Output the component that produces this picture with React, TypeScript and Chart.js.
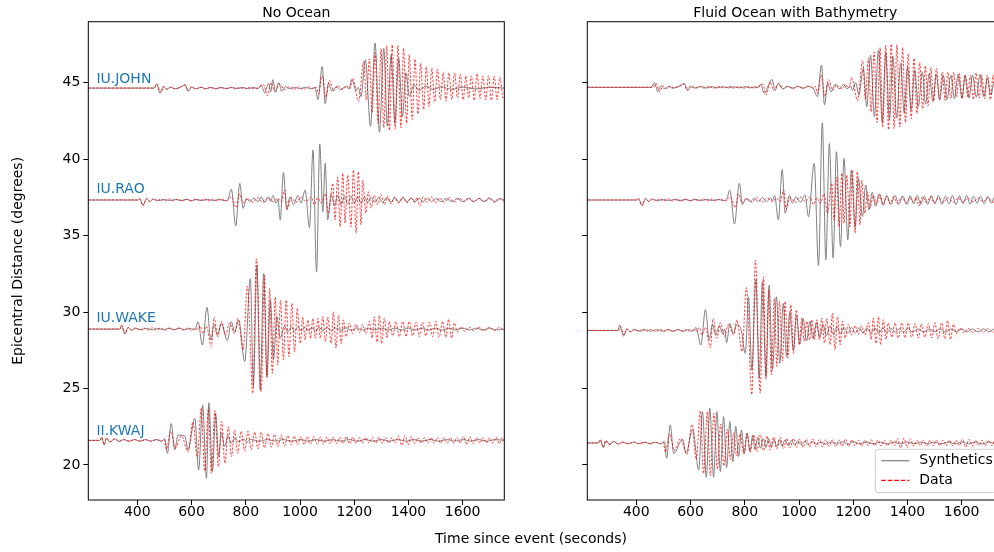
import React, { useEffect, useRef } from "react";
import { Chart, registerables } from "chart.js";

Chart.register(...registerables);

const FONT = '"DejaVu Sans", sans-serif';
const GREY = "#808080";
const RED = "#ff0000";
const BLUE = "#1f77b4";

const X_TICKS = [400, 600, 800, 1000, 1200, 1400, 1600];
const Y_TICKS = [20, 25, 30, 35, 40, 45];
const STATIONS = ["IU.JOHN", "IU.RAO", "IU.WAKE", "II.KWAJ"];
const LABEL_X = 249;
const LABEL_Y = [44.96, 37.77, 29.37, 21.96];
const BASE_NO_OCEAN = [44.65, 37.33, 28.89, 21.61];
const BASE_OCEAN = [44.7, 37.33, 28.8, 21.44];

// Traces: flat lists of [time (s), amplitude (hundredths of a degree)]
const DATA_JOHN = [220,0, 462,0, 473,25, 486,-30, 499,10, 511,-8, 526,6, 540,-5, 556,5, 577,20, 587,-20, 599,8, 615,-6, 632,6, 650,-5, 668,6, 686,-6, 705,5, 724,-5, 742,6, 760,-5, 778,5, 796,-6, 815,5, 833,-5, 848,5, 867,20, 879,-50, 894,35, 906,-20, 925,25, 943,-10, 960,8, 978,-8, 996,8, 1014,-8, 1032,8, 1050,-5, 1060,5, 1068,-40, 1082,80, 1095,-60, 1109,50, 1124,-20, 1139,15, 1158,-10, 1172,15, 1184,-5, 1194,65, 1216,-87, 1235,175, 1245,-80, 1256,190, 1266,-160, 1277,230, 1288,-230, 1299,260, 1309,-260, 1320,277, 1330,-277, 1340,283, 1351,-270, 1361,280, 1372,-260, 1382,260, 1393,-230, 1403,220, 1414,-205, 1424,190, 1435,-170, 1445,163, 1456,-140, 1466,140, 1476,-120, 1486,130, 1497,-90, 1507,125, 1518,-76, 1528,100, 1539,-85, 1549,100, 1560,-76, 1570,100, 1581,-65, 1591,90, 1602,-76, 1612,80, 1622,-65, 1632,80, 1643,-80, 1653,95, 1664,-70, 1674,80, 1685,-76, 1695,80, 1706,-80, 1716,80, 1727,-76, 1737,70, 1748,-65];

const DATA_RAO = [220,0, 403,0, 409,5, 421,-40, 434,10, 446,-10, 458,8, 471,-6, 486,6, 502,-6, 518,7, 534,-6, 550,6, 566,-7, 582,6, 598,-6, 614,6, 630,-6, 646,7, 662,-6, 678,6, 694,-6, 710,6, 728,-5, 747,20, 765,-50, 777,40, 790,-20, 808,10, 826,-15, 845,15, 863,-15, 882,15, 900,-10, 918,10, 931,-10, 943,65, 953,-60, 967,15, 986,-15, 1004,20, 1023,-10, 1041,20, 1053,-30, 1066,15, 1078,-20, 1093,40, 1105,-87, 1121,109, 1129,-130, 1139,150, 1148,-175, 1158,175, 1166,-152, 1176,163, 1188,-175, 1197,196, 1207,-218, 1215,185, 1225,-163, 1231,130, 1243,-87, 1252,54, 1262,-54, 1274,30, 1286,-30, 1299,35, 1311,-30, 1323,25, 1336,-25, 1348,20, 1363,-20, 1379,20, 1395,-20, 1409,15, 1422,-15, 1432,15, 1442,-40, 1455,20, 1470,-15, 1485,20, 1500,-20, 1515,15, 1532,-15, 1550,15, 1569,-15, 1587,12, 1606,-12, 1624,12, 1642,-12, 1661,12, 1679,-12, 1697,15, 1716,-15, 1734,12, 1752,-10];

const DATA_WAKE = [220,0, 336,0, 342,25, 354,-30, 366,10, 379,-8, 392,8, 408,-6, 424,8, 440,-6, 456,8, 472,-8, 488,6, 504,-8, 520,8, 536,-6, 552,8, 568,-6, 584,6, 600,-8, 612,6, 624,-3, 632,20, 642,-30, 655,20, 673,-115, 683,80, 697,-50, 710,50, 725,-40, 740,40, 759,-30, 771,70, 790,-137, 806,280, 826,-420, 839,460, 857,-410, 869,350, 878,-320, 888,266, 898,-290, 909,210, 918,-235, 928,190, 939,-200, 949,190, 959,-180, 970,168, 980,-150, 990,135, 1001,-94, 1010,80, 1019,-72, 1029,60, 1039,-62, 1047,70, 1057,-62, 1066,70, 1075,-62, 1084,80, 1094,-83, 1102,80, 1115,-94, 1123,113, 1133,-126, 1142,90, 1152,-94, 1160,60, 1170,-50, 1182,40, 1194,-30, 1207,30, 1219,-25, 1231,30, 1243,-30, 1256,50, 1266,-60, 1274,80, 1284,-85, 1293,90, 1301,-95, 1311,70, 1321,-60, 1329,50, 1342,-45, 1354,50, 1366,-50, 1379,50, 1391,-50, 1403,50, 1415,-45, 1428,45, 1440,-50, 1452,45, 1464,-45, 1477,45, 1489,-50, 1501,50, 1513,-55, 1526,50, 1538,-55, 1548,65, 1559,-60, 1569,40, 1581,-20, 1593,15, 1608,-15, 1624,12, 1642,-12, 1661,12, 1679,-12, 1697,12, 1716,-12, 1734,10, 1753,-8];

const DATA_KWAJ = [220,0, 262,0, 268,20, 278,-30, 286,15, 299,-10, 317,10, 332,-7, 350,5, 370,-5, 390,5, 410,-5, 430,5, 450,-5, 470,5, 490,-5, 499,5, 507,-60, 523,60, 540,-50, 563,30, 587,-74, 605,120, 621,-110, 636,210, 648,-200, 662,205, 673,-215, 686,194, 699,-172, 711,122, 723,-150, 736,90, 747,-107, 759,68, 770,-85, 783,60, 796,-70, 808,60, 820,-60, 833,55, 845,-55, 857,55, 869,-50, 882,45, 894,-45, 906,40, 918,-40, 931,35, 943,-35, 955,30, 967,-30, 979,28, 991,-28, 1003,25, 1015,-28, 1027,25, 1039,-25, 1051,25, 1063,-25, 1075,22, 1087,-25, 1099,22, 1111,-22, 1123,20, 1135,-22, 1147,20, 1159,-20, 1171,25, 1183,-22, 1195,20, 1207,-20, 1219,18, 1231,-20, 1243,18, 1255,-18, 1267,20, 1279,-18, 1291,20, 1303,-20, 1315,18, 1327,-18, 1339,18, 1351,-18, 1363,30, 1375,-32, 1387,32, 1399,-30, 1411,25, 1423,-20, 1435,18, 1447,-18, 1459,18, 1471,-18, 1483,18, 1495,-18, 1507,18, 1519,-18, 1531,18, 1543,-18, 1555,18, 1567,-18, 1579,18, 1591,-18, 1603,25, 1615,-28, 1627,25, 1639,-22, 1651,18, 1663,-18, 1675,18, 1687,-18, 1699,18, 1711,-18, 1723,20, 1735,-20, 1747,18, 1753,0];

const SYN_NO_JOHN = [220,0, 462,0, 471,28, 483,-33, 495,10, 507,-8, 522,5, 540,-5, 558,4, 577,22, 587,-20, 600,6, 618,-5, 636,5, 655,-5, 673,4, 692,-4, 712,4, 730,-4, 750,4, 770,-4, 790,4, 810,-4, 830,4, 845,-4, 857,20, 869,-30, 884,30, 892,-25, 900,55, 910,-28, 921,37, 933,-22, 945,10, 960,-5, 980,5, 1000,-5, 1020,5, 1040,-5, 1055,5, 1066,-76, 1082,142, 1093,-102, 1105,33, 1117,-20, 1133,8, 1150,-10, 1168,10, 1180,-5, 1191,55, 1207,-15, 1214,5, 1225,-55, 1241,185, 1260,-250, 1277,294, 1293,-290, 1309,260, 1322,-250, 1336,218, 1350,-230, 1364,196, 1378,-185, 1391,100, 1403,-55, 1420,20, 1440,-15, 1465,12, 1490,-10, 1520,8, 1560,-8, 1600,6, 1650,-5, 1700,5, 1753,0];

const SYN_NO_RAO = [220,0, 403,0, 409,10, 421,-33, 434,10, 446,-10, 460,5, 480,-5, 500,4, 520,-4, 540,4, 560,-4, 580,4, 600,-4, 620,4, 640,-4, 660,4, 680,-4, 700,4, 720,-4, 733,0, 747,70, 763,-170, 778,109, 790,-55, 802,10, 815,-10, 830,12, 845,-12, 857,20, 870,-15, 884,20, 892,-10, 900,30, 912,-20, 919,5, 927,-130, 939,179, 951,-65, 963,20, 976,-30, 992,30, 1004,-20, 1019,65, 1035,-180, 1048,327, 1061,-470, 1073,366, 1084,-76, 1093,240, 1102,-130, 1115,40, 1127,-40, 1139,30, 1152,-30, 1164,25, 1176,-25, 1188,25, 1200,-20, 1213,20, 1225,-20, 1238,20, 1250,-18, 1263,18, 1275,-15, 1290,15, 1305,-15, 1320,15, 1335,-15, 1350,15, 1365,-15, 1380,15, 1395,-12, 1410,12, 1425,-12, 1440,12, 1455,-12, 1470,12, 1485,-12, 1500,10, 1520,-10, 1540,10, 1560,-10, 1580,10, 1600,-10, 1620,10, 1640,-10, 1660,10, 1680,-10, 1700,10, 1720,-10, 1740,8, 1753,0];

const SYN_NO_WAKE = [220,0, 336,0, 342,26, 354,-33, 366,10, 379,-8, 395,5, 415,-5, 435,5, 455,-5, 475,5, 495,-5, 515,5, 535,-5, 555,5, 575,-5, 595,5, 612,-5, 624,48, 640,-105, 657,142, 671,-72, 683,30, 695,-40, 710,37, 732,-76, 747,48, 759,-20, 774,59, 796,-213, 817,330, 828,-377, 841,420, 853,-400, 866,364, 878,-310, 891,190, 902,-200, 915,80, 927,-60, 943,20, 955,-20, 968,15, 980,-15, 993,15, 1005,-12, 1018,12, 1030,-12, 1043,10, 1056,-10, 1070,10, 1085,-10, 1100,10, 1115,-10, 1130,8, 1150,-8, 1170,8, 1190,-8, 1210,8, 1230,-8, 1250,6, 1275,-6, 1300,6, 1325,-6, 1350,6, 1375,-6, 1400,6, 1425,-6, 1450,6, 1475,-6, 1500,6, 1525,-6, 1550,6, 1575,-6, 1600,6, 1625,-6, 1650,6, 1675,-6, 1700,6, 1725,-6, 1753,0];

const SYN_NO_KWAJ = [220,0, 262,0, 268,20, 278,-30, 286,15, 299,-10, 317,10, 332,-7, 350,5, 370,-5, 390,5, 410,-5, 430,5, 450,-5, 470,5, 490,-5, 501,10, 511,-85, 525,110, 538,-63, 550,35, 575,30, 587,-63, 612,144, 626,-194, 641,230, 655,-248, 664,246, 677,-205, 689,176, 700,-107, 710,50, 722,-40, 734,30, 746,-20, 760,12, 775,-10, 790,8, 805,-8, 820,6, 850,-6, 880,5, 910,-5, 940,5, 970,-5, 1000,5, 1030,-5, 1060,5, 1090,-5, 1120,5, 1150,-5, 1180,5, 1210,-5, 1240,5, 1270,-5, 1300,5, 1330,-5, 1360,5, 1390,-5, 1420,5, 1450,-5, 1480,5, 1510,-5, 1540,5, 1570,-5, 1600,5, 1630,-5, 1660,5, 1690,-5, 1720,5, 1753,0];

const SYN_OC_JOHN = [220,0, 455,0, 467,30, 479,-28, 491,10, 503,-10, 518,5, 535,-5, 555,5, 577,25, 590,-20, 603,6, 620,-5, 640,5, 660,-5, 680,4, 700,-4, 720,4, 740,-4, 760,4, 780,-4, 800,4, 820,-4, 840,4, 850,-4, 859,20, 872,-40, 887,10, 900,52, 912,-20, 924,25, 939,-10, 955,5, 975,-5, 995,5, 1015,-5, 1035,5, 1050,0, 1068,-61, 1083,146, 1094,-115, 1106,30, 1118,-30, 1133,20, 1148,-10, 1166,20, 1177,-10, 1190,10, 1197,-20, 1209,30, 1221,-50, 1237,124, 1250,-126, 1264,210, 1278,-192, 1293,244, 1307,-230, 1320,227, 1334,-213, 1346,205, 1360,-200, 1375,157, 1388,-170, 1400,135, 1414,-148, 1427,113, 1440,-126, 1455,100, 1467,-110, 1480,90, 1494,-94, 1506,85, 1519,-85, 1532,80, 1546,-80, 1560,80, 1573,-75, 1587,85, 1601,-70, 1613,80, 1627,-70, 1640,80, 1654,-65, 1668,85, 1681,-60, 1695,60, 1708,-50, 1720,40, 1734,-35, 1753,0];

const SYN_OC_RAO = [220,0, 399,0, 408,10, 421,-33, 434,10, 446,-10, 460,5, 480,-5, 500,4, 520,-4, 540,4, 560,-4, 580,4, 600,-4, 620,4, 640,-4, 660,4, 680,-4, 700,4, 720,-4, 732,0, 745,65, 762,-157, 780,109, 791,-30, 804,10, 820,-10, 835,12, 850,-12, 865,15, 880,-12, 895,15, 902,-5, 910,30, 924,-130, 938,200, 949,-87, 964,30, 976,-20, 988,20, 1006,-15, 1022,33, 1035,-109, 1056,240, 1072,-430, 1086,505, 1099,-392, 1112,370, 1126,-380, 1138,316, 1153,-305, 1166,272, 1180,-260, 1193,196, 1207,-174, 1219,142, 1234,-109, 1246,98, 1258,-65, 1270,50, 1282,-40, 1295,40, 1310,-35, 1324,30, 1339,-30, 1354,30, 1368,-30, 1383,25, 1398,-30, 1410,28, 1423,-25, 1436,30, 1449,-28, 1462,25, 1475,-30, 1488,28, 1501,-25, 1514,30, 1527,-28, 1540,25, 1553,-25, 1566,30, 1579,-30, 1592,28, 1605,-25, 1618,30, 1631,-28, 1644,25, 1657,-22, 1670,25, 1683,-25, 1696,22, 1709,-20, 1722,20, 1735,-18, 1753,0];

const SYN_OC_WAKE = [220,0, 332,0, 338,35, 353,-37, 365,10, 377,-8, 395,5, 415,-5, 435,5, 455,-5, 475,5, 495,-5, 515,5, 535,-5, 555,5, 575,-5, 595,5, 608,-5, 620,20, 638,-96, 655,137, 669,-63, 681,40, 693,-30, 706,30, 718,-20, 726,10, 733,-80, 745,45, 758,-20, 771,40, 787,0, 802,-150, 814,220, 826,-260, 841,330, 853,-314, 865,318, 878,-300, 890,296, 902,-260, 917,220, 929,-215, 942,176, 954,-172, 966,122, 979,-128, 991,100, 1003,-90, 1015,80, 1028,-70, 1040,60, 1052,-55, 1064,50, 1077,-45, 1089,40, 1101,-35, 1114,30, 1127,-28, 1140,25, 1153,-22, 1166,20, 1180,-20, 1194,20, 1208,-18, 1222,18, 1236,-16, 1250,16, 1265,-15, 1280,15, 1295,-15, 1310,15, 1325,-12, 1340,12, 1355,-12, 1370,12, 1385,-12, 1400,12, 1420,-10, 1440,10, 1460,-10, 1480,10, 1500,-10, 1520,10, 1540,-10, 1560,10, 1580,-10, 1600,10, 1620,-10, 1640,10, 1660,-10, 1680,10, 1700,-10, 1720,10, 1740,-8, 1753,0];

const SYN_OC_KWAJ = [220,0, 258,0, 267,20, 279,-30, 289,15, 303,-10, 319,10, 332,-8, 350,5, 370,-5, 390,5, 410,-5, 430,5, 450,-5, 470,5, 490,-5, 503,10, 512,-100, 525,118, 538,-68, 571,24, 583,-68, 608,90, 630,-176, 644,205, 658,-224, 671,227, 685,-224, 697,205, 710,-187, 722,172, 733,-160, 745,140, 756,-122, 767,107, 777,-90, 788,85, 798,-70, 809,65, 819,-55, 829,50, 838,-45, 848,40, 858,-35, 868,30, 878,-30, 888,28, 898,-28, 908,25, 918,-25, 928,22, 938,-22, 948,20, 960,-18, 972,16, 984,-15, 996,14, 1008,-12, 1020,10, 1035,-10, 1050,8, 1065,-8, 1080,8, 1100,-8, 1120,8, 1140,-8, 1160,8, 1180,-8, 1200,8, 1225,-6, 1250,6, 1275,-6, 1300,6, 1325,-6, 1350,6, 1375,-6, 1400,6, 1425,-6, 1450,6, 1475,-6, 1500,6, 1525,-6, 1550,6, 1575,-6, 1600,6, 1625,-6, 1650,6, 1675,-6, 1700,6, 1725,-6, 1753,0];

const DATA_TRACES = [DATA_JOHN, DATA_RAO, DATA_WAKE, DATA_KWAJ];
const SYN_NO_OCEAN = [SYN_NO_JOHN, SYN_NO_RAO, SYN_NO_WAKE, SYN_NO_KWAJ];
const SYN_OCEAN = [SYN_OC_JOHN, SYN_OC_RAO, SYN_OC_WAKE, SYN_OC_KWAJ];

const X_MIN = 219.2;
const X_MAX = 1753.5;
const Y_MIN = 17.71;
const Y_MAX = 48.99;

function toPoints(flat: number[], base: number) {
  const out: { x: number; y: number }[] = [];
  for (let i = 0; i < flat.length; i += 2) out.push({ x: flat[i], y: base + flat[i + 1] / 100 });
  return out;
}

function buildDatasets(syn: number[][], base: number[]) {
  const ds: any[] = [];
  STATIONS.forEach((_, i) => {
    ds.push({
      label: "Synthetics",
      data: toPoints(syn[i], base[i]),
      borderColor: GREY,
      borderWidth: 1,
      pointRadius: 0,
      cubicInterpolationMode: "monotone",
      fill: false,
      order: 2,
    });
    ds.push({
      label: "Data",
      data: toPoints(DATA_TRACES[i], base[i]),
      borderColor: RED,
      borderWidth: 0.75,
      borderDash: [2.4, 1.5],
      pointRadius: 0,
      cubicInterpolationMode: "monotone",
      fill: false,
      order: 1,
    });
  });
  return ds;
}

function decorPlugin(title: string, isLeft: boolean) {
  return {
    id: "decor" + (isLeft ? "L" : "R"),
    afterDraw(chart: any) {
      const { ctx, chartArea: a } = chart;
      ctx.save();
      ctx.strokeStyle = "#000";
      ctx.lineWidth = 1;
      ctx.strokeRect(a.left, a.top, a.right - a.left, a.bottom - a.top);
      ctx.fillStyle = "#000";
      ctx.font = `14px ${FONT}`;
      ctx.textAlign = "center";
      ctx.textBaseline = "alphabetic";
      ctx.fillText(title, (a.left + a.right) / 2, a.top - 5);
      if (isLeft) {
        const xs = chart.scales.x;
        const ys = chart.scales.y;
        ctx.fillStyle = BLUE;
        ctx.textAlign = "left";
        STATIONS.forEach((s, i) => {
          ctx.fillText(s, xs.getPixelForValue(LABEL_X), ys.getPixelForValue(LABEL_Y[i]));
        });
        ctx.fillStyle = "#000";
        ctx.textAlign = "center";
        ctx.fillText("Time since event (seconds)", 531, 543);
      } else {
        const bx = a.right - 128;
        const by = a.bottom - 50.7;
        const bw = 121;
        const bh = 43.4;
        const r = 3;
        ctx.beginPath();
        ctx.moveTo(bx + r, by);
        ctx.lineTo(bx + bw - r, by);
        ctx.arcTo(bx + bw, by, bx + bw, by + r, r);
        ctx.lineTo(bx + bw, by + bh - r);
        ctx.arcTo(bx + bw, by + bh, bx + bw - r, by + bh, r);
        ctx.lineTo(bx + r, by + bh);
        ctx.arcTo(bx, by + bh, bx, by + bh - r, r);
        ctx.lineTo(bx, by + r);
        ctx.arcTo(bx, by, bx + r, by, r);
        ctx.closePath();
        ctx.fillStyle = "rgba(255,255,255,0.8)";
        ctx.fill();
        ctx.strokeStyle = "#cccccc";
        ctx.lineWidth = 1;
        ctx.stroke();
        const y1 = by + 11.4;
        const y2 = by + 31;
        ctx.lineWidth = 1.2;
        ctx.strokeStyle = GREY;
        ctx.beginPath();
        ctx.moveTo(bx + 6, y1);
        ctx.lineTo(bx + 34, y1);
        ctx.stroke();
        ctx.strokeStyle = RED;
        ctx.setLineDash([4.5, 2]);
        ctx.beginPath();
        ctx.moveTo(bx + 6, y2);
        ctx.lineTo(bx + 34, y2);
        ctx.stroke();
        ctx.setLineDash([]);
        ctx.fillStyle = "#000";
        ctx.textAlign = "left";
        ctx.textBaseline = "middle";
        ctx.fillText("Synthetics", bx + 44, y1);
        ctx.fillText("Data", bx + 44, y2);
      }
      ctx.restore();
    },
  };
}

function buildConfig(isLeft: boolean): any {
  const syn = isLeft ? SYN_NO_OCEAN : SYN_OCEAN;
  const base = isLeft ? BASE_NO_OCEAN : BASE_OCEAN;
  const canvasW = isLeft ? 994 : 1011;
  return {
    type: "line",
    data: { datasets: buildDatasets(syn, base) },
    plugins: [decorPlugin(isLeft ? "No Ocean" : "Fluid Ocean with Bathymetry", isLeft)],
    options: {
      responsive: false,
      animation: false,
      devicePixelRatio: 1,
      events: [],
      layout: {
        padding: { top: 21.7, left: 0, bottom: 0, right: isLeft ? canvasW - 504.3 : canvasW - 1003.3 },
      },
      plugins: {
        legend: { display: false },
        tooltip: { enabled: false },
        title: { display: false },
      },
      scales: {
        x: {
          type: "linear",
          min: X_MIN,
          max: X_MAX,
          afterBuildTicks: (s: any) => {
            s.ticks = X_TICKS.map((v) => ({ value: v }));
          },
          afterFit: (s: any) => {
            s.height = 52;
          },
          ticks: {
            autoSkip: false,
            maxRotation: 0,
            padding: -1,
            color: "#000",
            font: { family: FONT, size: 14 },
            callback: (v: any) => String(v),
          },
          grid: { drawOnChartArea: false, drawTicks: true, tickLength: 5, color: "#000", tickColor: "#000", tickWidth: 1 },
          border: { display: false },
        },
        y: {
          type: "linear",
          min: Y_MIN,
          max: Y_MAX,
          afterBuildTicks: (s: any) => {
            s.ticks = Y_TICKS.map((v) => ({ value: v }));
          },
          afterFit: (s: any) => {
            s.width = isLeft ? 88.3 : 587.3;
          },
          ticks: {
            display: isLeft,
            autoSkip: false,
            padding: 3,
            color: "#000",
            font: { family: FONT, size: 14 },
            callback: (v: any) => String(v),
          },
          grid: { drawOnChartArea: false, drawTicks: true, tickLength: 5, color: "#000", tickColor: "#000", tickWidth: 1 },
          border: { display: false },
          title: {
            display: isLeft,
            text: "Epicentral Distance (degrees)",
            color: "#000",
            font: { family: FONT, size: 14 },
            padding: { top: 9.6, bottom: 0 },
          },
        },
      },
    },
  };
}

export default function App() {
  const leftRef = useRef<HTMLCanvasElement | null>(null);
  const rightRef = useRef<HTMLCanvasElement | null>(null);

  useEffect(() => {
    if (!leftRef.current || !rightRef.current) return;
    const c1 = new Chart(leftRef.current, buildConfig(true));
    const c2 = new Chart(rightRef.current, buildConfig(false));
    return () => {
      c1.destroy();
      c2.destroy();
    };
  }, []);

  return (
    <div
      style={{
        position: "fixed",
        left: 0,
        top: 0,
        width: 994,
        height: 552,
        overflow: "hidden",
        background: "#fff",
      }}
    >
      <canvas ref={leftRef} width={994} height={552} style={{ position: "absolute", left: 0, top: 0, width: 994, height: 552 }} />
      <canvas ref={rightRef} width={1011} height={552} style={{ position: "absolute", left: 0, top: 0, width: 1011, height: 552 }} />
    </div>
  );
}
